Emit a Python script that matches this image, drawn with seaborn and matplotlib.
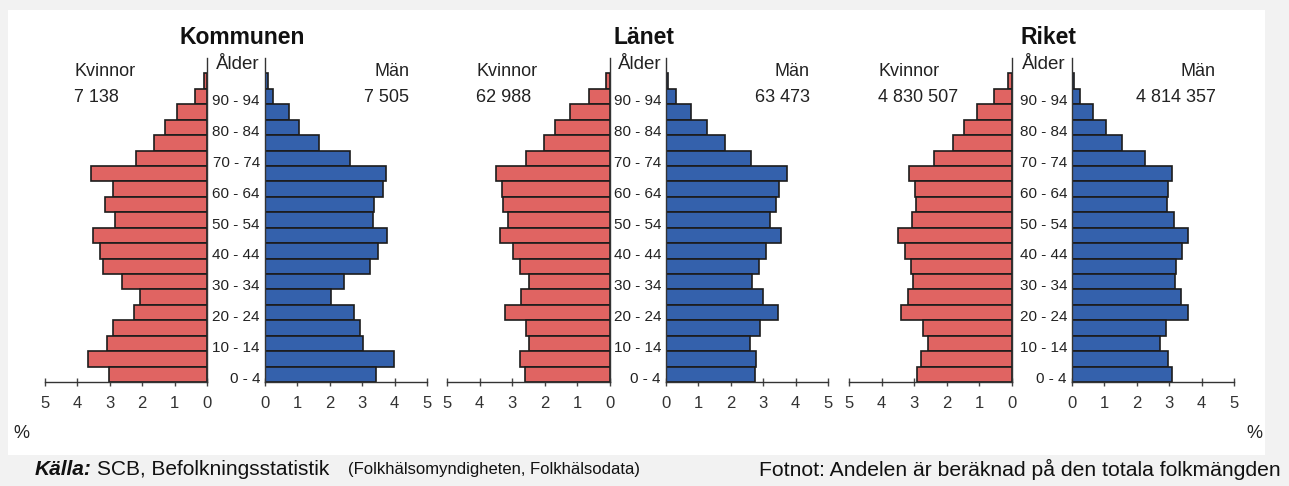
import matplotlib
matplotlib.use("Agg")
import matplotlib.pyplot as plt
import matplotlib.transforms as mtransforms
from matplotlib.patches import Rectangle
import seaborn as sns
import pandas as pd

# Age groups, bottom (0 - 4) to top (95+)
ages = ["0 - 4", "5 - 9", "10 - 14", "15 - 19", "20 - 24", "25 - 29", "30 - 34",
        "35 - 39", "40 - 44", "45 - 49", "50 - 54", "55 - 59", "60 - 64",
        "65 - 69", "70 - 74", "75 - 79", "80 - 84", "85 - 89", "90 - 94", "95+"]
shown_ages = ["0 - 4", "10 - 14", "20 - 24", "30 - 34", "40 - 44", "50 - 54",
              "60 - 64", "70 - 74", "80 - 84", "90 - 94"]

# Percent of total population
kommun_kvinnor = [3.04, 3.66, 3.09, 2.89, 2.24, 2.06, 2.61, 3.20, 3.30, 3.53,
                  2.84, 3.14, 2.89, 3.58, 2.20, 1.63, 1.29, 0.93, 0.36, 0.10]
kommun_man = [3.43, 3.97, 3.04, 2.94, 2.75, 2.04, 2.45, 3.25, 3.48, 3.78,
              3.33, 3.37, 3.64, 3.74, 2.63, 1.67, 1.06, 0.75, 0.24, 0.10]
lan_kvinnor = [2.61, 2.77, 2.49, 2.59, 3.21, 2.72, 2.49, 2.77, 2.97, 3.36,
               3.13, 3.28, 3.31, 3.51, 2.59, 2.03, 1.69, 1.23, 0.64, 0.13]
lan_man = [2.76, 2.79, 2.59, 2.90, 3.46, 2.98, 2.66, 2.86, 3.08, 3.56,
           3.20, 3.41, 3.49, 3.72, 2.62, 1.82, 1.28, 0.76, 0.30, 0.07]
rike_kvinnor = [2.91, 2.79, 2.57, 2.72, 3.39, 3.20, 3.05, 3.10, 3.29, 3.49,
                3.08, 2.95, 2.98, 3.15, 2.38, 1.82, 1.47, 1.06, 0.56, 0.13]
rike_man = [3.10, 2.97, 2.72, 2.90, 3.59, 3.35, 3.18, 3.21, 3.38, 3.59,
            3.15, 2.94, 2.97, 3.10, 2.25, 1.54, 1.06, 0.64, 0.26, 0.05]

regions = ["Kommunen", "Länet", "Riket"]
totals_kvinnor = ["7 138", "62 988", "4 830 507"]
totals_man = ["7 505", "63 473", "4 814 357"]
ticks = [0, 1, 2, 3, 4, 5]

RED = "#E06462"
BLUE = "#3461AC"
EDGE = "#1c1c1c"

sns.set_theme(style="white")
plt.rcParams["font.family"] = ["Liberation Sans", "DejaVu Sans"]

W, H = 1289, 486
fig = plt.figure(figsize=(W / 100, H / 100), dpi=100)
fig.patch.set_facecolor("#f2f2f2")
fig.patches.append(Rectangle((8 / W, 1 - 455 / H), (1265 - 8) / W, (455 - 10) / H,
                             transform=fig.transFigure, facecolor="white",
                             edgecolor="none", zorder=-10))

# pixel x-extent of the two halves per pyramid
layout = [((45, 207), (265, 427)), ((447, 610), (666, 828)), ((849, 1012), (1072, 1234))]
y_bot, y_top = 382, 58
order = ages[::-1]


def fx(px):
    return px / W


def fy(py):
    return 1 - py / H


for i, region in enumerate(regions):
    women = [kommun_kvinnor, lan_kvinnor, rike_kvinnor][i]
    men = [kommun_man, lan_man, rike_man][i]
    (l0, l1), (r0, r1) = layout[i]
    axl = fig.add_axes([fx(l0), fy(y_bot), fx(l1 - l0), (y_bot - y_top) / H])
    axr = fig.add_axes([fx(r0), fy(y_bot), fx(r1 - r0), (y_bot - y_top) / H])
    for a in (axl, axr):
        a.patch.set_alpha(0)

    df_w = pd.DataFrame({"age": ages, "pct": women})
    df_m = pd.DataFrame({"age": ages, "pct": men})
    sns.barplot(data=df_w, x="pct", y="age", order=order, orient="h", color=RED,
                saturation=1, edgecolor=EDGE, linewidth=1.2, width=1, ax=axl)
    sns.barplot(data=df_m, x="pct", y="age", order=order, orient="h", color=BLUE,
                saturation=1, edgecolor=EDGE, linewidth=1.2, width=1, ax=axr)

    axl.set_xlim(5, 0)
    axr.set_xlim(0, 5)
    for a in (axl, axr):
        a.set_ylim(len(ages) - 0.5, -1.5)
        a.set_xticks(ticks)
        a.set_xticklabels([str(t) for t in ticks], fontsize=12)
        a.set_yticks([])
        a.set_xlabel("")
        a.set_ylabel("")
        a.tick_params(axis="x", direction="inout", length=6, width=1, colors="#444444",
                      labelcolor="#333333", pad=7, bottom=True)
        for s in a.spines.values():
            s.set_color("#333333")
            s.set_linewidth(1)
        a.spines["top"].set_visible(False)
    axl.spines["left"].set_visible(False)
    axr.spines["right"].set_visible(False)

    # age labels between halves
    trans = mtransforms.blended_transform_factory(fig.transFigure, axr.transData)
    for lab in shown_ages:
        pos = order.index(lab)
        fig.text(fx(r0 - 5), pos + 0.3, lab, ha="right", va="center", fontsize=11,
                 color="#222222", transform=trans)

    mid = (l1 + r0) / 2
    fig.text(fx(mid + 2), fy(64), "Ålder", ha="center", va="center", fontsize=13.5,
             color="#222222")
    fig.text(fx(mid + 6), fy(37), region, ha="center", va="center", fontsize=16.5,
             fontweight="bold", color="#111111")
    fig.text(fx(l0 + 29), fy(71), "Kvinnor", ha="left", va="center", fontsize=13,
             color="#222222")
    fig.text(fx(l0 + 29), fy(97), totals_kvinnor[i], ha="left", va="center",
             fontsize=13, color="#222222")
    fig.text(fx(r1 - 18), fy(71), "Män", ha="right", va="center", fontsize=13,
             color="#222222")
    fig.text(fx(r1 - 18), fy(97), totals_man[i], ha="right", va="center",
             fontsize=13, color="#222222")

fig.text(fx(13), fy(433), "%", ha="left", va="center", fontsize=13, color="#222222")
fig.text(fx(1262), fy(433), "%", ha="right", va="center", fontsize=13, color="#222222")

# footer
fig.text(fx(35), fy(469), "Källa:", ha="left", va="center", fontsize=15,
         fontweight="bold", fontstyle="italic", color="#111111")
fig.text(fx(97), fy(469), "SCB, Befolkningsstatistik", ha="left", va="center",
         fontsize=15, color="#111111")
fig.text(fx(348), fy(469), "(Folkhälsomyndigheten, Folkhälsodata)", ha="left",
         va="center", fontsize=12, color="#111111")
fig.text(fx(1281), fy(469), "Fotnot: Andelen är beräknad på den totala folkmängden",
         ha="right", va="center", fontsize=15.2, color="#111111")

fig.savefig("out.png", dpi=100, facecolor=fig.get_facecolor())
